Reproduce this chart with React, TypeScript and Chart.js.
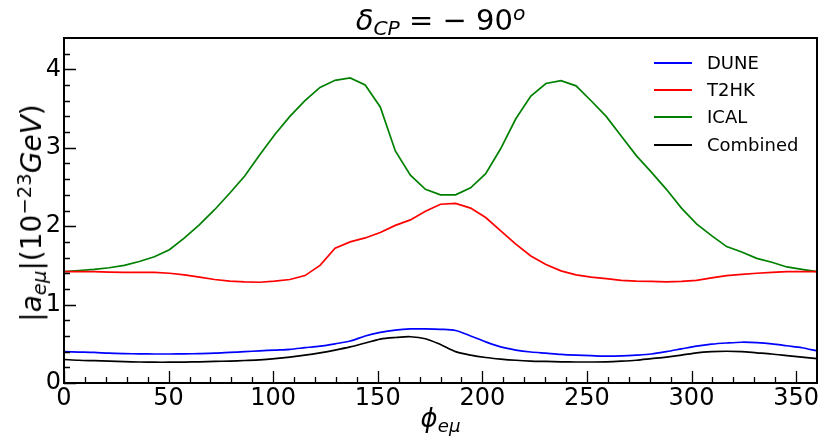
import { useEffect, useRef } from "react";
import { Chart, registerables } from "chart.js";

Chart.register(...registerables);

const FONT = "'DejaVu Sans', sans-serif";

// phi_emu grid (degrees)
const phi = [
  0, 7.2, 14.4, 21.6, 28.8, 36, 43.2, 50.4, 57.6, 64.8, 72, 79.2, 86.4, 93.6, 100.8, 108, 115.2,
  122.4, 129.6, 136.8, 144, 151.2, 158.4, 165.6, 172.8, 180, 187.2, 194.4, 201.6, 208.8, 216,
  223.2, 230.4, 237.6, 244.8, 252, 259.2, 266.4, 273.6, 280.8, 288, 295.2, 302.4, 309.6, 316.8,
  324, 331.2, 338.4, 345.6, 352.8, 360,
];

const dune = [
  0.4, 0.395, 0.39, 0.38, 0.375, 0.372, 0.37, 0.37, 0.372, 0.375, 0.38, 0.39, 0.4, 0.41, 0.42,
  0.43, 0.45, 0.47, 0.5, 0.535, 0.6, 0.645, 0.675, 0.69, 0.69, 0.685, 0.67, 0.6, 0.525, 0.46,
  0.42, 0.395, 0.38, 0.365, 0.355, 0.348, 0.342, 0.345, 0.355, 0.37, 0.4, 0.435, 0.47, 0.495,
  0.51, 0.52, 0.515, 0.5, 0.475, 0.45, 0.41,
];

const t2hk = [
  1.42, 1.42, 1.42, 1.415, 1.41, 1.41, 1.41, 1.4, 1.38, 1.35, 1.32, 1.3, 1.29, 1.285, 1.3, 1.32,
  1.37, 1.5, 1.72, 1.8, 1.85, 1.92, 2.01, 2.08, 2.19, 2.28, 2.29, 2.23, 2.11, 1.94, 1.77, 1.62,
  1.51, 1.43, 1.38, 1.35, 1.33, 1.31, 1.3, 1.295, 1.29, 1.295, 1.31, 1.34, 1.37, 1.385, 1.4,
  1.41, 1.42, 1.42, 1.42,
];

const ical = [
  1.42, 1.435, 1.45, 1.47, 1.5, 1.55, 1.61, 1.7, 1.85, 2.02, 2.21, 2.42, 2.64, 2.91, 3.17, 3.4,
  3.6, 3.77, 3.86, 3.89, 3.8, 3.52, 2.96, 2.65, 2.47, 2.4, 2.4, 2.49, 2.67, 2.99, 3.37, 3.66,
  3.82, 3.855, 3.79, 3.6, 3.4, 3.15, 2.9, 2.69, 2.47, 2.23, 2.03, 1.88, 1.74, 1.67, 1.59, 1.54,
  1.48, 1.45, 1.42,
];

const combined = [
  0.3, 0.29, 0.285, 0.28, 0.272, 0.268, 0.265, 0.265, 0.267, 0.27, 0.275, 0.28, 0.287, 0.295,
  0.31, 0.33, 0.355, 0.385, 0.42, 0.46, 0.51, 0.56, 0.58, 0.59, 0.565, 0.49, 0.4, 0.355, 0.325,
  0.305, 0.29, 0.28, 0.275, 0.27, 0.268, 0.268, 0.27, 0.278, 0.29, 0.31, 0.33, 0.355, 0.385, 0.4,
  0.405, 0.4, 0.385, 0.37, 0.35, 0.33, 0.31,
];

const xMajorTicks = [0, 50, 100, 150, 200, 250, 300, 350];
const xMinorTicks = [
  10, 20, 30, 40, 60, 70, 80, 90, 110, 120, 130, 140, 160, 170, 180, 190, 210, 220, 230, 240, 260,
  270, 280, 290, 310, 320, 330, 340,
];
const yMajorTicks = [0, 1, 2, 3, 4];
const yMinorTicks = [0.2, 0.4, 0.6, 0.8, 1.2, 1.4, 1.6, 1.8, 2.2, 2.4, 2.6, 2.8, 3.2, 3.4, 3.6, 3.8, 4.2];

const series = [
  { label: "DUNE", data: dune, color: "#0000ff", smooth: true },
  { label: "T2HK", data: t2hk, color: "#ff0000", smooth: false },
  { label: "ICAL", data: ical, color: "#008000", smooth: false },
  { label: "Combined", data: combined, color: "#000000", smooth: true },
];

// inward tick marks + box frame, matplotlib style
const frameTicks = {
  id: "frameTicks",
  afterDatasetsDraw(chart: any) {
    const { ctx, chartArea: a, scales } = chart;
    ctx.save();
    ctx.strokeStyle = "#000";
    ctx.lineWidth = 1.3;
    ctx.beginPath();
    const xt = (vals: number[], len: number) => {
      for (const v of vals) {
        const px = Math.round(scales.x.getPixelForValue(v)) + 0.5;
        ctx.moveTo(px, a.bottom);
        ctx.lineTo(px, a.bottom - len);
      }
    };
    const yt = (vals: number[], len: number) => {
      for (const v of vals) {
        const py = Math.round(scales.y.getPixelForValue(v)) + 0.5;
        ctx.moveTo(a.left, py);
        ctx.lineTo(a.left + len, py);
      }
    };
    xt(xMajorTicks, 12);
    xt(xMinorTicks, 6);
    yt(yMajorTicks, 12);
    yt(yMinorTicks, 6);
    ctx.stroke();
    ctx.lineWidth = 2;
    ctx.strokeRect(a.left, a.top, a.right - a.left, a.bottom - a.top);
    ctx.restore();
  },
};

const sub = { fontSize: "0.7em", position: "relative" as const, top: "0.25em" };
const sup = { fontSize: "0.7em", position: "relative" as const, top: "-0.5em" };

export default function App() {
  const canvasRef = useRef<HTMLCanvasElement | null>(null);

  useEffect(() => {
    if (!canvasRef.current) return;
    const chart = new Chart(canvasRef.current, {
      type: "line",
      data: {
        datasets: series.map((s) => ({
          label: s.label,
          data: phi.map((x, i) => ({ x, y: s.data[i] })),
          borderColor: s.color,
          backgroundColor: s.color,
          borderWidth: 1.7,
          pointRadius: 0,
          fill: false,
          tension: s.smooth ? 0.3 : 0,
        })),
      },
      options: {
        animation: false,
        responsive: false,
        layout: { padding: { top: 38, right: 14, left: 0, bottom: 0 } },
        plugins: {
          legend: { display: false },
          tooltip: { enabled: false },
        },
        scales: {
          x: {
            type: "linear",
            min: 0,
            max: 360,
            grid: { display: false, drawTicks: false },
            border: { display: false },
            ticks: { color: "#000", font: { family: FONT, size: 24 }, padding: 1, maxRotation: 0 },
            afterBuildTicks: (s: any) => {
              s.ticks = xMajorTicks.map((value) => ({ value }));
            },
            afterFit: (s: any) => {
              s.height = 59;
            },
          },
          y: {
            type: "linear",
            min: 0,
            max: 4.4,
            grid: { display: false, drawTicks: false },
            border: { display: false },
            ticks: { color: "#000", font: { family: FONT, size: 24 }, padding: 3 },
            afterBuildTicks: (s: any) => {
              s.ticks = yMajorTicks.map((value) => ({ value }));
            },
            afterFit: (s: any) => {
              s.width = 64;
            },
          },
        },
      },
      plugins: [frameTicks],
    });
    return () => chart.destroy();
  }, []);

  return (
    <div
      style={{
        position: "absolute",
        left: 0,
        top: 0,
        width: 831,
        height: 442,
        background: "#fff",
        fontFamily: FONT,
        color: "#000",
      }}
    >
      <canvas ref={canvasRef} width={831} height={442} style={{ position: "absolute", left: 0, top: 0 }} />

      <div
        style={{
          position: "absolute",
          left: 64,
          width: 753,
          top: 6,
          textAlign: "center",
          fontSize: 29,
          lineHeight: 1,
          whiteSpace: "nowrap",
        }}
      >
        <span style={{ fontStyle: "italic" }}>δ</span>
        <span style={{ ...sub, fontStyle: "italic" }}>CP</span>
        <span> = − 90</span>
        <span style={{ ...sup, fontStyle: "italic" }}>o</span>
      </div>

      <div
        style={{
          position: "absolute",
          left: 32,
          top: 213,
          transform: "translate(-50%, -50%) rotate(-90deg)",
          fontSize: 28,
          lineHeight: 1,
          whiteSpace: "nowrap",
        }}
      >
        <span>|</span>
        <span style={{ fontStyle: "italic" }}>a</span>
        <span style={{ ...sub, fontStyle: "italic" }}>eμ</span>
        <span>|(10</span>
        <span style={sup}>−23</span>
        <span style={{ fontStyle: "italic" }}>GeV</span>
        <span>)</span>
      </div>

      <div
        style={{
          position: "absolute",
          left: 64,
          width: 753,
          top: 405,
          textAlign: "center",
          fontSize: 26,
          lineHeight: 1,
          whiteSpace: "nowrap",
        }}
      >
        <span style={{ fontStyle: "italic" }}>ϕ</span>
        <span style={{ ...sub, fontStyle: "italic" }}>eμ</span>
      </div>

      <div style={{ position: "absolute", left: 654, top: 49, fontSize: 18, lineHeight: 1 }}>
        {series.map((s) => (
          <div key={s.label} style={{ display: "flex", alignItems: "center", height: 27.4 }}>
            <span style={{ display: "inline-block", width: 38, height: 0, borderTop: `2px solid ${s.color}` }} />
            <span style={{ marginLeft: 15 }}>{s.label}</span>
          </div>
        ))}
      </div>
    </div>
  );
}
